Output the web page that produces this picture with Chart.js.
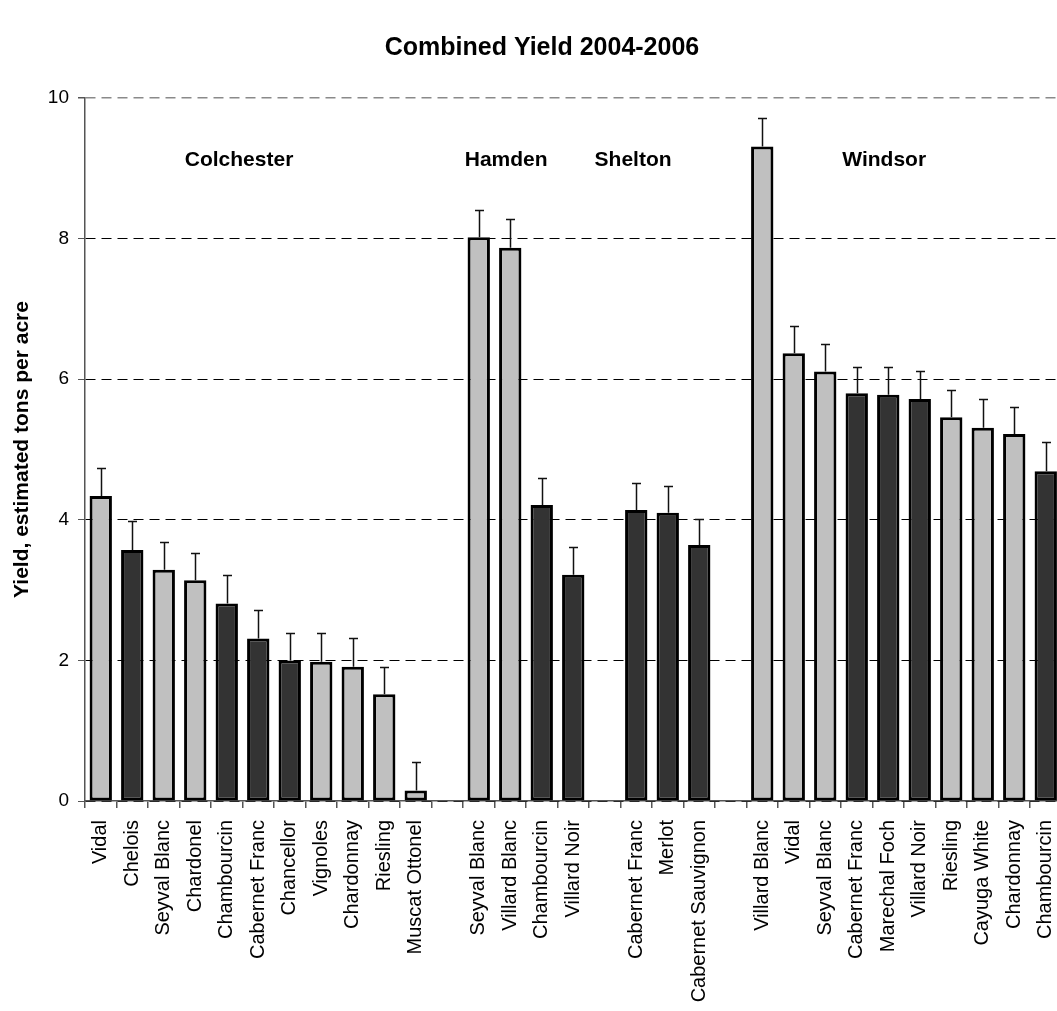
<!DOCTYPE html>
<html>
<head>
<meta charset="utf-8">
<title>Combined Yield 2004-2006</title>
<script src="https://cdn.jsdelivr.net/npm/chart.js@4/dist/chart.umd.min.js"></script>
<style>
  html, body { margin: 0; padding: 0; background: #fff; overflow: hidden; width: 1057px; height: 1011px; }
  #wrap { width: 1084px; height: 1011px; }
</style>
</head>
<body>
<div id="wrap"><canvas id="chart" width="1084" height="1011"></canvas></div>
<script>
// Vineyard sites, in plotting order
const sites = ['Colchester', 'Hamden', 'Shelton', 'Windsor'];

// Colchester
const colchesterVarieties = ['Vidal', 'Chelois', 'Seyval Blanc', 'Chardonel', 'Chambourcin', 'Cabernet Franc',
  'Chancellor', 'Vignoles', 'Chardonnay', 'Riesling', 'Muscat Ottonel'];
const colchesterYield = [4.34, 3.57, 3.29, 3.14, 2.81, 2.31, 2.00, 1.98, 1.91, 1.52, 0.15];
const colchesterError = [0.39, 0.42, 0.39, 0.39, 0.41, 0.40, 0.39, 0.41, 0.41, 0.39, 0.41];
const colchesterGrape = ['white', 'red', 'white', 'white', 'red', 'red', 'red', 'white', 'white', 'white', 'white'];

// Hamden
const hamdenVarieties = ['Seyval Blanc', 'Villard Blanc', 'Chambourcin', 'Villard Noir'];
const hamdenYield = [8.02, 7.87, 4.21, 3.22];
const hamdenError = [0.39, 0.41, 0.39, 0.39];
const hamdenGrape = ['white', 'white', 'red', 'red'];

// Shelton
const sheltonVarieties = ['Cabernet Franc', 'Merlot', 'Cabernet Sauvignon'];
const sheltonYield = [4.14, 4.10, 3.64];
const sheltonError = [0.38, 0.38, 0.37];
const sheltonGrape = ['red', 'red', 'red'];

// Windsor
const windsorVarieties = ['Villard Blanc', 'Vidal', 'Seyval Blanc', 'Cabernet Franc', 'Marechal Foch', 'Villard Noir',
  'Riesling', 'Cayuga White', 'Chardonnay', 'Chambourcin'];
const windsorYield = [9.31, 6.37, 6.11, 5.80, 5.78, 5.72, 5.46, 5.31, 5.22, 4.69];
const windsorError = [0.41, 0.39, 0.39, 0.38, 0.39, 0.39, 0.39, 0.41, 0.39, 0.41];
const windsorGrape = ['white', 'white', 'white', 'red', 'red', 'red', 'white', 'white', 'white', 'red'];

// Y axis ticks
const yTicks = [0, 2, 4, 6, 8, 10];

// ---- build the flat category axis, with an empty slot between sites ----
const siteVarieties = [colchesterVarieties, hamdenVarieties, sheltonVarieties, windsorVarieties];
const siteYield = [colchesterYield, hamdenYield, sheltonYield, windsorYield];
const siteError = [colchesterError, hamdenError, sheltonError, windsorError];
const siteGrape = [colchesterGrape, hamdenGrape, sheltonGrape, windsorGrape];

const labels = [], values = [], errors = [], grapes = [];
siteVarieties.forEach((names, s) => {
  if (s > 0) { labels.push(''); values.push(null); errors.push(null); grapes.push(null); }
  names.forEach((n, i) => {
    labels.push(n);
    values.push(siteYield[s][i]);
    errors.push(siteError[s][i]);
    grapes.push(siteGrape[s][i]);
  });
});

const FONT = '"Liberation Sans", Arial, Helvetica, sans-serif';
const fillFor = { white: '#C0C0C0', red: '#333333' };

// site captions sit at a category position inside the plot
const siteLabelSlot = [4.39, 12.87, 16.9, 24.87];
const siteLabelLevel = 9.03;

const errorBarPlugin = {
  id: 'errorBars',
  afterDatasetsDraw(chart) {
    const { ctx } = chart;
    const yScale = chart.scales.y;
    const meta = chart.getDatasetMeta(0);
    ctx.save();
    ctx.strokeStyle = '#111';
    ctx.lineWidth = 1.5;
    meta.data.forEach((bar, i) => {
      const v = values[i], e = errors[i];
      if (v === null || e === null) return;
      const yTop = Math.round(yScale.getPixelForValue(v + e)) + 0.5;
      const yBase = yScale.getPixelForValue(v);
      const x = Math.round(bar.x) + 0.5;
      ctx.beginPath();
      ctx.moveTo(x, yBase);
      ctx.lineTo(x, yTop);
      ctx.moveTo(x - 4.5, yTop);
      ctx.lineTo(x + 4.5, yTop);
      ctx.stroke();
    });
    ctx.restore();
  }
};

const siteLabelPlugin = {
  id: 'siteLabels',
  afterDatasetsDraw(chart) {
    const { ctx } = chart;
    const { x, y } = chart.scales;
    ctx.save();
    ctx.font = 'bold 21px ' + FONT;
    ctx.fillStyle = '#000';
    ctx.textAlign = 'center';
    ctx.textBaseline = 'alphabetic';
    sites.forEach((name, i) => {
      ctx.fillText(name, x.getPixelForValue(siteLabelSlot[i]), y.getPixelForValue(siteLabelLevel));
    });
    ctx.restore();
  }
};

new Chart(document.getElementById('chart'), {
  type: 'bar',
  data: {
    labels: labels,
    datasets: [{
      data: values,
      backgroundColor: grapes.map(g => g ? fillFor[g] : 'transparent'),
      borderColor: '#000',
      borderWidth: 3,
      borderSkipped: false,
      barPercentage: 0.71,
      categoryPercentage: 1.0
    }]
  },
  options: {
    responsive: false,
    animation: false,
    devicePixelRatio: 1,
    layout: { padding: 0 },
    plugins: {
      legend: { display: false },
      tooltip: { enabled: false },
      title: {
        display: true,
        text: 'Combined Yield 2004-2006',
        color: '#000',
        font: { family: FONT, size: 25, weight: 'bold', lineHeight: 1.2 },
        padding: { top: 33, bottom: 35 }
      }
    },
    scales: {
      x: {
        offset: true,
        grid: { display: true, drawOnChartArea: false, drawTicks: true, tickLength: 7, offset: true, color: '#555', lineWidth: 1.5 },
        border: { display: true, color: '#555', width: 1.5 },
        ticks: {
          autoSkip: false, maxRotation: 90, minRotation: 90, padding: 12,
          color: '#000', font: { family: FONT, size: 20 }
        },
        afterFit(scale) { scale.height = 210; }
      },
      y: {
        min: 0, max: 10,
        afterBuildTicks(scale) { scale.ticks = yTicks.map(v => ({ value: v })); },
        grid: {
          drawTicks: true, tickLength: 7,
          color: ctx => (ctx.tick && ctx.tick.value === 10) ? '#8a8a8a' : '#000',
          tickColor: '#555',
          lineWidth: ctx => (ctx.tick && ctx.tick.value === 10) ? 1.5 : 1
        },
        border: { display: true, color: '#555', width: 1.5, dash: [10, 6] },
        ticks: { padding: 9, color: '#000', font: { family: FONT, size: 19 } },
        title: {
          display: true, text: 'Yield, estimated tons per acre', color: '#000',
          font: { family: FONT, size: 21, weight: 'bold', lineHeight: 1.2 },
          padding: { top: 10, bottom: 0 }
        },
        afterFit(scale) { scale.width = 85; }
      },
      // empty margin on the right of the plot
      yRight: {
        position: 'right',
        display: true,
        grid: { display: false },
        border: { display: false },
        ticks: { display: false },
        afterFit(scale) { scale.width = 22.5; }
      }
    }
  },
  plugins: [errorBarPlugin, siteLabelPlugin]
});
</script>
</body>
</html>
